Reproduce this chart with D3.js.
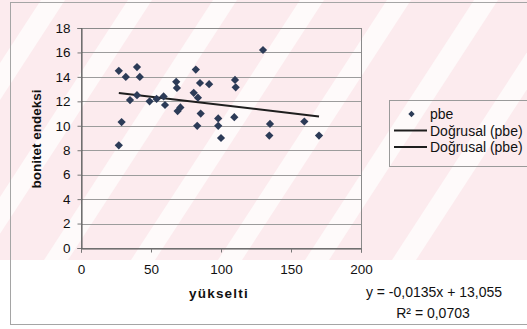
<!DOCTYPE html>
<html lang="tr">
<head>
<meta charset="UTF-8">
<title>bonitet endeksi - yükselti</title>
<script src="https://d3js.org/d3.v7.min.js"></script>
<style>
  body { margin: 0; padding: 0; background: #fff; }
  svg { display: block; font-family: "Liberation Sans", Arial, sans-serif; }
  .tick text { font-size: 13.5px; fill: #111; }
</style>
</head>
<body>
<div id="chart"></div>
<script>
// data
const yukselti = [27, 32, 40, 42, 27, 29, 35, 40, 49, 54, 59, 60, 68, 68.5, 69, 71,
  82, 85, 91.5, 80.5, 83.5, 85.5, 83, 98, 98, 100, 109.5, 110, 110.5, 130, 135, 134.5, 159.5, 170];
const bonitet = [14.5, 14.0, 14.8, 14.0, 8.4, 10.3, 12.1, 12.5, 12.0, 12.2, 12.4, 11.7, 13.6, 13.1, 11.2, 11.5,
  14.6, 13.5, 13.4, 12.7, 12.3, 11.0, 10.0, 10.6, 10.0, 9.0, 10.7, 13.75, 13.15, 16.2, 10.15, 9.2, 10.35, 9.2];
const trendSlope = -0.0135;
const trendIntercept = 13.055;
const xTicks = [0, 50, 100, 150, 200];
const yTicks = [0, 2, 4, 6, 8, 10, 12, 14, 16, 18];
const legendLabels = ["pbe", "Doğrusal (pbe)", "Doğrusal (pbe)"];
const equationText = "y = -0,0135x + 13,055";
const r2Text = "R² = 0,0703";

const width = 527, height = 329;
const plot = { left: 81, right: 361, top: 28, bottom: 248 };
const pointColor = "#2c3b57";

const svg = d3.select("#chart").append("svg")
  .attr("width", width)
  .attr("height", height);

// pink watermark of the scan (diagonal bands)
const wm = svg.append("g");
wm.append("rect").attr("x", 0).attr("y", 0).attr("width", width).attr("height", 260).attr("fill", "#fcebee");
[-46, 41, 128, 213, 300, 387, 474, 561].forEach(x0 => {
  const k = 0.65, w = 24, h = 260;
  wm.append("polygon")
    .attr("points", [[x0, 0], [x0 + w, 0], [x0 + w - k * h, h], [x0 - k * h, h]].join(" "))
    .attr("fill", "#fefafa");
});

// outer chart border
svg.append("rect")
  .attr("x", 10.5).attr("y", 2.5)
  .attr("width", 530).attr("height", 322)
  .attr("fill", "none").attr("stroke", "#a5a5a5");

const x = d3.scaleLinear().domain([0, 200]).range([plot.left, plot.right]);
const y = d3.scaleLinear().domain([0, 18]).range([plot.bottom, plot.top]);

// gridlines
svg.append("g").selectAll("line")
  .data(yTicks.filter(d => d > 0))
  .join("line")
  .attr("x1", plot.left).attr("x2", plot.right)
  .attr("y1", d => Math.round(y(d)) + 0.5).attr("y2", d => Math.round(y(d)) + 0.5)
  .attr("stroke", "#9c9c9c");

// plot area border
svg.append("rect")
  .attr("x", plot.left + 0.5).attr("y", Math.round(plot.top) + 0.5)
  .attr("width", plot.right - plot.left).attr("height", plot.bottom - plot.top)
  .attr("fill", "none").attr("stroke", "#8a8a8a");

// axes
const xAxis = svg.append("g")
  .attr("transform", `translate(0,${plot.bottom + 0.5})`)
  .call(d3.axisBottom(x).tickValues(xTicks).tickSize(4).tickPadding(12).tickFormat(d3.format("d")));
const yAxis = svg.append("g")
  .attr("transform", `translate(${plot.left + 0.5},0)`)
  .call(d3.axisLeft(y).tickValues(yTicks).tickSize(4).tickPadding(7).tickFormat(d3.format("d")));
[xAxis, yAxis].forEach(a => {
  a.select(".domain").attr("stroke", "#555");
  a.selectAll(".tick line").attr("stroke", "#777");
  a.selectAll(".tick text").attr("font-family", null).attr("font-size", null);
});

// trend line
const xMin = d3.min(yukselti), xMax = d3.max(yukselti);
svg.append("line")
  .attr("x1", x(xMin)).attr("y1", y(trendIntercept + trendSlope * xMin))
  .attr("x2", x(xMax)).attr("y2", y(trendIntercept + trendSlope * xMax))
  .attr("stroke", "#1e1e1e").attr("stroke-width", 2);

// points
const diamond = d3.symbol(d3.symbolSquare, 34);
svg.append("g").selectAll("path")
  .data(d3.zip(yukselti, bonitet))
  .join("path")
  .attr("d", diamond)
  .attr("transform", d => `translate(${x(d[0])},${y(d[1])}) rotate(45)`)
  .attr("fill", pointColor);

// axis titles
svg.append("text")
  .attr("transform", `translate(41,139) rotate(-90)`)
  .attr("text-anchor", "middle")
  .attr("font-size", 13.5).attr("font-weight", "bold").attr("fill", "#111")
  .text("bonitet endeksi");
svg.append("text")
  .attr("x", 219).attr("y", 298)
  .attr("text-anchor", "middle")
  .attr("font-size", 13.5).attr("font-weight", "bold").attr("letter-spacing", 1.2).attr("fill", "#111")
  .text("yükselti");

// equation
svg.append("text").attr("x", 434).attr("y", 297).attr("text-anchor", "middle")
  .attr("font-size", 14).attr("fill", "#111").text(equationText);
svg.append("text").attr("x", 433).attr("y", 318).attr("text-anchor", "middle")
  .attr("font-size", 14).attr("fill", "#111").text(r2Text);

// legend
const legend = svg.append("g");
legend.append("rect")
  .attr("x", 389.5).attr("y", 100.5).attr("width", 140).attr("height", 66)
  .attr("fill", "none").attr("stroke", "#9a9a9a");
legendLabels.forEach((label, i) => {
  const cy = 114 + i * 16.5;
  if (i === 0) {
    legend.append("path")
      .attr("d", d3.symbol(d3.symbolSquare, 20))
      .attr("transform", `translate(411.5,${cy}) rotate(45)`)
      .attr("fill", pointColor);
  } else {
    legend.append("line")
      .attr("x1", 394).attr("x2", 427).attr("y1", cy).attr("y2", cy)
      .attr("stroke", "#1e1e1e").attr("stroke-width", 2);
  }
  legend.append("text")
    .attr("x", 430).attr("y", cy + 5)
    .attr("font-size", 14).attr("fill", "#111")
    .text(label);
});
</script>
</body>
</html>
